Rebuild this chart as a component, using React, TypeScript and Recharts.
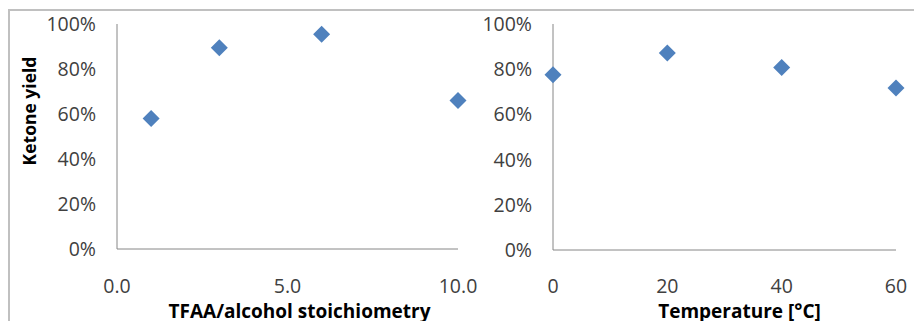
import { ScatterChart, Scatter, XAxis, YAxis } from 'recharts';

const stoichX = [1, 3, 6, 10];
const stoichYield = [0.58, 0.895, 0.955, 0.66];
const tempX = [0, 20, 40, 60];
const tempYield = [0.775, 0.872, 0.808, 0.717];
const yieldTicks = [0, 0.2, 0.4, 0.6, 0.8, 1];
const stoichTicks = [0, 5, 10];
const tempTicks = [0, 20, 40, 60];

const MARKER = '#4F81BD';
const AXIS = '#868686';
const FONT = '"Open Sans", "Liberation Sans", sans-serif';

const stoichData = stoichX.map((x, i) => ({ x, y: stoichYield[i] }));
const tempData = tempX.map((x, i) => ({ x, y: tempYield[i] }));

const Diamond = (props: any) => {
  const { cx, cy } = props;
  const r = 8.5;
  return (
    <polygon
      points={`${cx},${cy - r} ${cx + r},${cy} ${cx},${cy + r} ${cx - r},${cy}`}
      fill={MARKER}
    />
  );
};

const tickStyle = { fontSize: 19.5, fill: '#404040', fontFamily: FONT };
const titleStyle = { fontSize: 19, fontWeight: 700, fill: '#000', fontFamily: FONT };
const pct = (v: number) => `${Math.round(v * 100)}%`;

// x-axis title, sitting a bit right of the plot centre like the original
const xTitle = (text: string, shift: number) => (props: any) => {
  const vb = props.viewBox || {};
  const cx = vb.x + vb.width / 2 + shift;
  const by = vb.y + vb.height - 3;
  return (
    <text x={cx} y={by} textAnchor="middle" style={titleStyle}>
      {text}
    </text>
  );
};

export default function App() {
  return (
    <div style={{ position: 'absolute', left: 0, top: 0, width: 914, height: 321, overflow: 'hidden', background: '#fff', fontFamily: FONT }}>
      <div style={{ position: 'absolute', left: 8, top: 9, width: 960, height: 400, border: '2px solid #c0c0c0', boxSizing: 'border-box' }} />

      <div style={{ position: 'absolute', left: 460, top: 0 }}>
        <ScatterChart width={454} height={321} margin={{ top: 24, right: 18, bottom: 0, left: 0 }}>
          <XAxis
            type="number"
            dataKey="x"
            domain={[0, 60]}
            ticks={tempTicks}
            height={71}
            tickLine={false}
            tickSize={0}
            tickMargin={29}
            axisLine={{ stroke: AXIS }}
            tick={tickStyle}
            label={{ content: xTitle('Temperature [°C]', 15) }}
          />
          <YAxis
            type="number"
            dataKey="y"
            domain={[0, 1]}
            ticks={yieldTicks}
            tickFormatter={pct}
            width={93}
            tickLine={false}
            tickSize={0}
            tickMargin={21}
            axisLine={{ stroke: AXIS }}
            tick={tickStyle}
          />
          <Scatter data={tempData} shape={Diamond} isAnimationActive={false} />
        </ScatterChart>
      </div>

      <div style={{ position: 'absolute', left: 0, top: 0 }}>
        <ScatterChart width={500} height={321} margin={{ top: 24, right: 42, bottom: 0, left: 0 }}>
          <XAxis
            type="number"
            dataKey="x"
            domain={[0, 10]}
            ticks={stoichTicks}
            tickFormatter={(v: number) => v.toFixed(1)}
            height={72}
            tickLine={false}
            tickSize={0}
            tickMargin={30}
            axisLine={{ stroke: AXIS }}
            tick={tickStyle}
            label={{ content: xTitle('TFAA/alcohol stoichiometry', 12) }}
          />
          <YAxis
            type="number"
            dataKey="y"
            domain={[0, 1]}
            ticks={yieldTicks}
            tickFormatter={pct}
            width={117}
            tickLine={false}
            tickSize={0}
            tickMargin={21}
            axisLine={{ stroke: AXIS }}
            tick={tickStyle}
            label={{
              content: () => (
                <text
                  x={29}
                  y={111}
                  transform="rotate(-90, 29, 111)"
                  textAnchor="middle"
                  dominantBaseline="central"
                  style={{ ...titleStyle, fontSize: 17.5 }}
                >
                  Ketone yield
                </text>
              ),
            }}
          />
          <Scatter data={stoichData} shape={Diamond} isAnimationActive={false} />
        </ScatterChart>
      </div>
    </div>
  );
}
